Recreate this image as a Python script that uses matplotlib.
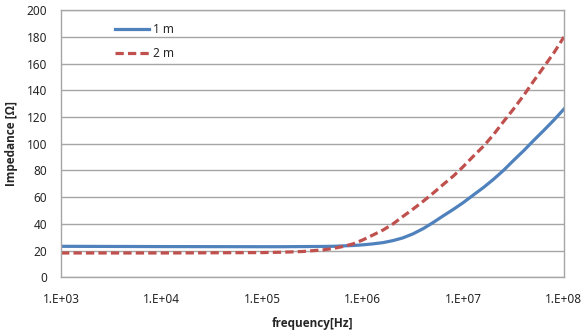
import math

import matplotlib
matplotlib.use("Agg")
import matplotlib.pyplot as plt
from matplotlib.ticker import FixedLocator, FuncFormatter

BLUE = "#4f81bd"
RED = "#c0504d"
GRID = "#a6a6a6"
FRAME = "#a6a6a6"
INK = "#262626"

plt.rcParams["font.family"] = ["Noto Sans", "DejaVu Sans"]
BOLD_FAMILY = ["Open Sans", "Liberation Sans", "DejaVu Sans"]

# frequency sweep [Hz] and impedance per cable length [ohm]
freq = [1e3, 1e4, 1e5, 1.6e5, 2.5e5, 4e5, 5e5, 6.3e5, 8e5,
        1e6, 1.25e6, 1.6e6, 2e6, 2.5e6, 3.15e6, 4e6, 5e6, 6.3e6, 8e6,
        1e7, 1.25e7, 1.6e7, 2e7, 2.5e7, 3.15e7, 4e7, 5e7, 6.3e7, 8e7, 1e8]
z_1m = [23.2, 23.0, 22.9, 22.9, 23.0, 23.1, 23.2, 23.5, 23.8,
        24.3, 25.0, 26.0, 27.5, 29.5, 32.5, 36.5, 41.0, 46.0, 51.0,
        56.0, 61.5, 67.5, 73.5, 80.0, 87.5, 95.0, 102.5, 110.0, 118.0, 126.0]
z_2m = [18.2, 18.2, 18.5, 18.8, 19.3, 20.5, 21.5, 23.0, 25.0,
        28.0, 31.5, 35.5, 40.0, 45.5, 51.0, 57.0, 63.0, 69.5, 76.0,
        83.0, 90.5, 98.5, 107.0, 116.5, 126.0, 136.5, 147.0, 157.5, 168.5, 180.0]
labels = ["1 m", "2 m"]
x_ticks = [1e3, 1e4, 1e5, 1e6, 1e7, 1e8]
y_ticks = list(range(0, 201, 20))

fig = plt.figure(figsize=(5.85, 3.34), dpi=100)
ax = fig.add_axes([0.1043, 0.1698, 0.8597, 0.7994])

ax.plot(freq, z_1m, color=BLUE, lw=2.3, label=labels[0])
ax.plot(freq, z_2m, color=RED, lw=2.3, ls=(0, (2.6, 1.3)), label=labels[1])

ax.set_xscale("log")
ax.set_xlim(1e3, 1e8)
ax.set_ylim(0, 200)
ax.xaxis.set_major_locator(FixedLocator(x_ticks))
ax.xaxis.set_minor_locator(FixedLocator([]))
ax.xaxis.set_major_formatter(FuncFormatter(lambda v, _: f"1.E+{round(math.log10(v)):02d}"))
ax.yaxis.set_major_locator(FixedLocator(y_ticks))

ax.grid(axis="y", color=GRID, lw=1.0)
ax.set_axisbelow(True)
for s in ax.spines.values():
    s.set_color(FRAME)
    s.set_linewidth(1.0)
ax.tick_params(length=0, labelsize=8.5, labelcolor=INK)
ax.tick_params(axis="x", pad=11)
ax.tick_params(axis="y", pad=10)

ax.set_xlabel("frequency[Hz]", fontsize=8.5, fontweight="bold", color=INK,
              labelpad=8, family=BOLD_FAMILY)
fig.text(12 / 585, 1 - 143 / 334, "Impedance [Ω]", rotation=90, ha="center",
         va="center", fontsize=8.5, fontweight="bold", color=INK, family=BOLD_FAMILY)

ax.legend(loc="upper left", bbox_to_anchor=(0.086, 0.993), frameon=False,
          fontsize=8.5, handlelength=2.9, handletextpad=0.3, labelspacing=0.95,
          labelcolor=INK)

fig.savefig("out.png", dpi=100)
